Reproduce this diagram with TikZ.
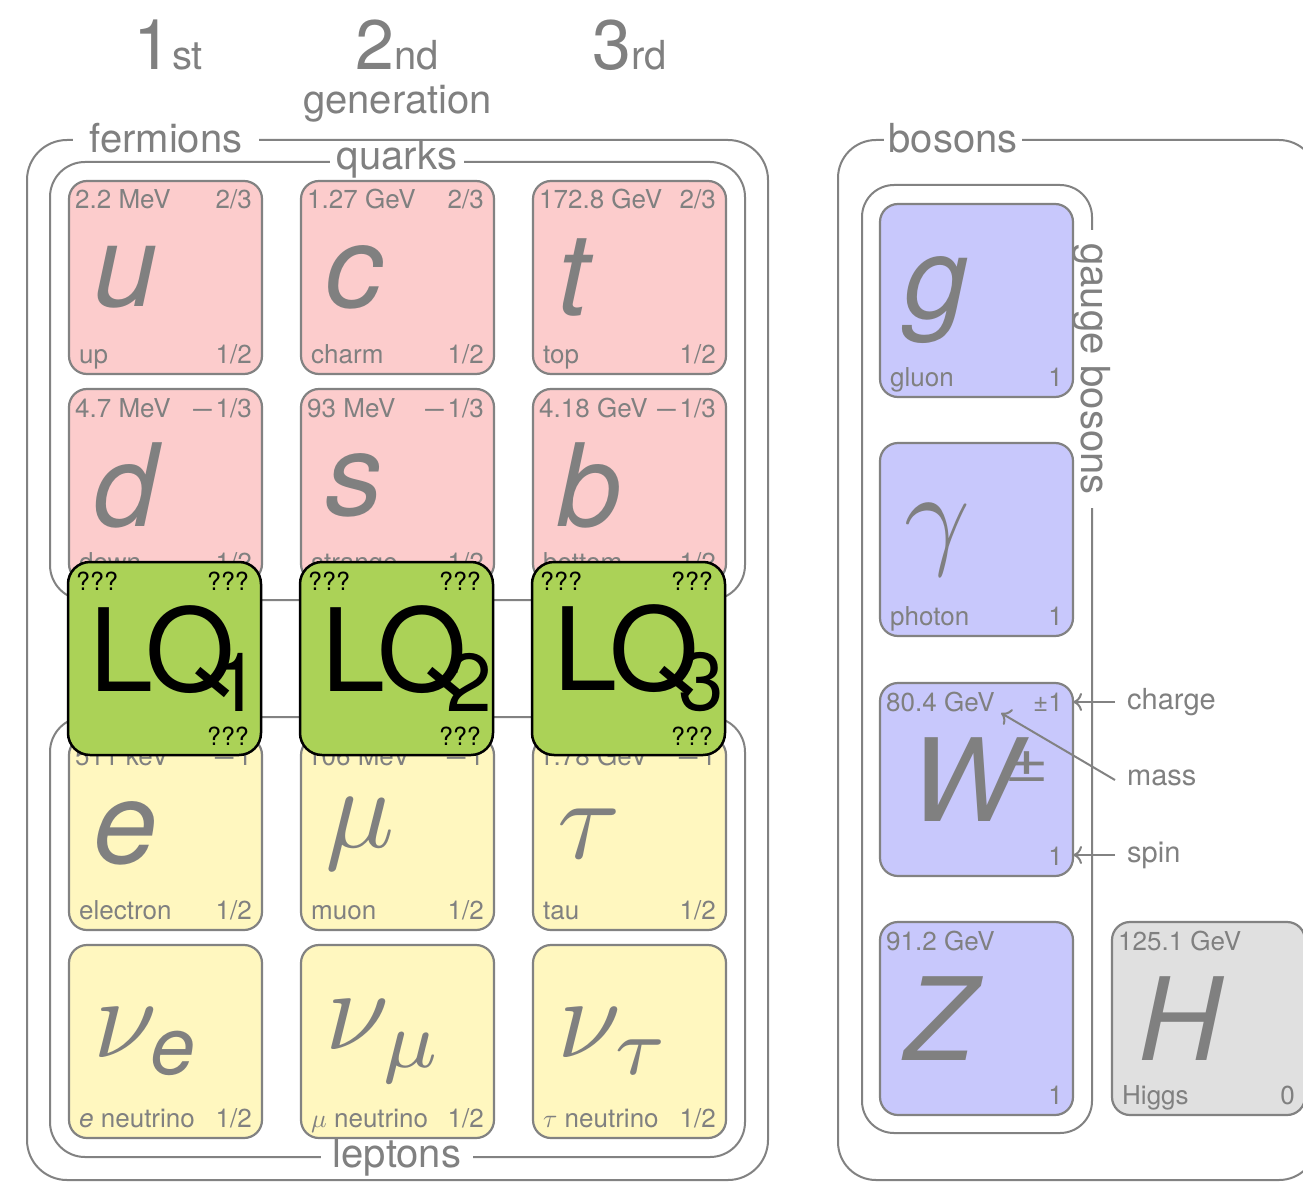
\documentclass[tikz,border=0pt]{standalone}
\usepackage{fontspec}
\setmainfont{TeX Gyre Heros}
\usepackage{graphicx}
\usetikzlibrary{arrows.meta}

\definecolor{txtgray}{RGB}{128,128,128}
\definecolor{linegray}{RGB}{130,130,130}
\definecolor{quarkfill}{RGB}{252,204,204}
\definecolor{leptonfill}{RGB}{255,247,191}
\definecolor{gaugefill}{RGB}{200,200,252}
\definecolor{higgsfill}{RGB}{224,224,224}
\definecolor{lqfill}{RGB}{171,210,87}

% Greek symbols from the math font, scaled up from 10pt
\newcommand\bigmath[1]{\scalebox{11.5}{\fontsize{10}{10}\selectfont$#1$}}
\newcommand\smallmath[1]{\scalebox{2.6}{\fontsize{10}{10}\selectfont$#1$}}
\newcommand\subit[1]{\mbox{\fontsize{7}{7}\selectfont\itshape #1}}
% long minus for the charge values
\newcommand\mminus{\scalebox{1.6}[1.1]{−}\kern1pt}

\tikzset{
  groupframe/.style={draw=linegray, line width=2pt},
  framelabel/.style={fill=white, text=txtgray, font=\fontsize{40}{40}\selectfont, inner ysep=0pt, inner xsep=8pt},
  gen/.style={text=txtgray, font=\fontsize{40}{40}\selectfont, inner sep=0pt},
  pbox/.style={draw=linegray, line width=2.2pt, rounded corners=18pt, minimum width=193pt, minimum height=193pt, inner sep=0pt, outer sep=0pt, anchor=north west},
  psym/.style={anchor=west, inner sep=0pt, text=txtgray, font=\fontsize{115}{115}\selectfont\itshape},
  ptext/.style={inner sep=0pt, text=txtgray, font=\fontsize{26}{26}\selectfont},
  lqbox/.style={pbox, draw=black, fill=lqfill, line width=2.5pt, rounded corners=22pt},
  lqtext/.style={inner sep=0pt, text=black, font=\fontsize{25}{25}\selectfont},
  lqsym/.style={anchor=west, inner sep=0pt, text=black, font=\fontsize{115}{115}\selectfont},
  note/.style={anchor=west, inner sep=0pt, text=txtgray, font=\fontsize{29}{29}\selectfont},
  pointer/.style={draw=linegray, line width=2pt, -{Computer Modern Rightarrow[length=9pt,width=18pt]}},
}

% #1 name, #2 #3 top-left corner, #4 fill, #5 mass, #6 charge, #7 spin, #8 label, #9 symbol
\newcommand\particle[9]{%
  \node[pbox, fill=#4] (#1) at (#2,#3) {};
  \node[psym] (#1-sym) at ([xshift=24pt]#1.west) {#9};
  \node[ptext, anchor=base west] (#1-mass) at ([shift={(6pt,-28pt)}]#1.north west) {#5};
  \node[ptext, anchor=base east] (#1-charge) at ([shift={(-10pt,-28pt)}]#1.north east) {#6};
  \node[ptext, anchor=base east] (#1-spin) at ([shift={(-10pt,11pt)}]#1.south east) {#7};
  \node[ptext, anchor=base west] (#1-name) at ([shift={(10pt,11pt)}]#1.south west) {#8};
}

% leptoquark card: #1 name, #2 #3 top-left corner, #4 index
\newcommand\leptoquark[4]{%
  \node[lqbox] (#1) at (#2,#3) {};
  \node[lqsym] (#1-sym) at ([xshift=21pt]#1.west) {L\kern-8pt Q\kern-20pt\raisebox{-20pt}{\fontsize{82}{82}\selectfont #4}};
  \node[lqtext, anchor=base west] (#1-tl) at ([shift={(8pt,-28pt)}]#1.north west) {???};
  \node[lqtext, anchor=base east] (#1-tr) at ([shift={(-12pt,-28pt)}]#1.north east) {???};
  \node[lqtext, anchor=base east] (#1-br) at ([shift={(-12pt,10pt)}]#1.south east) {???};
}

\begin{document}
\begin{tikzpicture}[x=1pt,y=-1pt]
\useasboundingbox (0,0) rectangle (1303,1182);
\fill[white] (0,0) rectangle (1303,1182);
\clip (0,0) rectangle (1303,1182);

% generation headers
\node[gen, anchor=base] (gen1) at (168,70) {{\fontsize{70}{70}\selectfont 1}st};
\node[gen, anchor=base] (gen2) at (397.5,70) {{\fontsize{70}{70}\selectfont 2}nd};
\node[gen, anchor=base] (gen3) at (629.5,70) {{\fontsize{70}{70}\selectfont 3}rd};
\node[gen, anchor=base] (genword) at (397.5,114) {generation};

% grouping frames
\draw[groupframe, rounded corners=40pt] (27,140) rectangle (768,1180);
\draw[groupframe, rounded corners=35pt] (50,162) rectangle (745,600);
\draw[groupframe, rounded corners=35pt] (50,717) rectangle (745,1157);
\draw[groupframe, rounded corners=38pt] (838,140) rectangle (1317,1180);
\draw[groupframe, rounded corners=32pt] (862,185) rectangle (1092,1133);

\node[framelabel, inner xsep=17pt, anchor=base] (fermlabel) at (166,153) {fermions};
\node[framelabel, inner xsep=7pt, anchor=base] (quarklabel) at (397,170) {quarks};
\node[framelabel, inner xsep=12pt, anchor=base] (leptonlabel) at (397,1167) {leptons};
\node[framelabel, inner xsep=5pt, anchor=base] (bosonlabel) at (953,153) {bosons};
\node[framelabel, inner xsep=13pt, rotate=-90] (gaugelabel) at (1092,369) {gauge bosons};

% quarks
\particle{u}{69}{181}{quarkfill}{2.2 MeV}{2/3}{1/2}{up}{u}
\particle{c}{301}{181}{quarkfill}{1.27 GeV}{2/3}{1/2}{charm}{c}
\particle{t}{533}{181}{quarkfill}{172.8 GeV}{2/3}{1/2}{top}{t}
\particle{d}{69}{389}{quarkfill}{4.7 MeV}{\mminus1/3}{1/2}{down}{d}
\particle{s}{301}{389}{quarkfill}{93 MeV}{\mminus1/3}{1/2}{strange}{s}
\particle{b}{533}{389}{quarkfill}{4.18 GeV}{\mminus1/3}{1/2}{bottom}{b}

% leptons
\particle{e}{69}{737}{leptonfill}{511 keV}{\mminus1}{1/2}{electron}{e}
\particle{mu}{301}{737}{leptonfill}{106 MeV}{\mminus1}{1/2}{muon}{\bigmath{\mu}}
\particle{tau}{533}{737}{leptonfill}{1.78 GeV}{\mminus1}{1/2}{tau}{\bigmath{\tau}}
\particle{nue}{69}{945}{leptonfill}{}{}{1/2}{{\itshape e} neutrino}{\bigmath{\nu_{\subit{e}}}}
\particle{numu}{301}{945}{leptonfill}{}{}{1/2}{\smallmath{\mu} neutrino}{\bigmath{\nu_\mu}}
\particle{nutau}{533}{945}{leptonfill}{}{}{1/2}{\smallmath{\tau} neutrino}{\bigmath{\nu_\tau}}

% bosons
\particle{g}{880}{204}{gaugefill}{}{}{1}{gluon}{g}
\particle{gamma}{880}{443}{gaugefill}{}{}{1}{photon}{\bigmath{\gamma}}
\particle{W}{880}{683}{gaugefill}{80.4 GeV}{±1}{1}{}{\kern6pt W\kern-14pt\raisebox{40pt}{\fontsize{55}{55}\selectfont\upshape\scalebox{1.4}[1]{±}}}
\particle{Z}{880}{922}{gaugefill}{91.2 GeV}{}{1}{}{Z}
\particle{H}{1112}{922}{higgsfill}{125.1 GeV}{}{0}{Higgs}{\kern2pt H}

% leptoquarks
\leptoquark{lq1}{68}{562}{1}
\leptoquark{lq2}{300}{562}{2}
\leptoquark{lq3}{532}{562}{3}

% legend for the card fields
\node[note] (charge) at (1127,702) {charge};
\node[note] (mass) at (1127,778) {mass};
\node[note] (spin) at (1127,855) {spin};
\coordinate (charge-tip) at ([yshift=-19pt]W.north east);
\coordinate (mass-tip) at ([shift={(121pt,-30pt)}]W.north west);
\coordinate (spin-tip) at ([yshift=21pt]W.south east);
\draw[pointer] ([xshift=-12pt]charge.west) -- (charge-tip);
\draw[pointer] ([shift={(-12pt,-2pt)}]mass.west) -- (mass-tip);
\draw[pointer] ([xshift=-12pt]spin.west) -- (spin-tip);
\end{tikzpicture}
\end{document}
